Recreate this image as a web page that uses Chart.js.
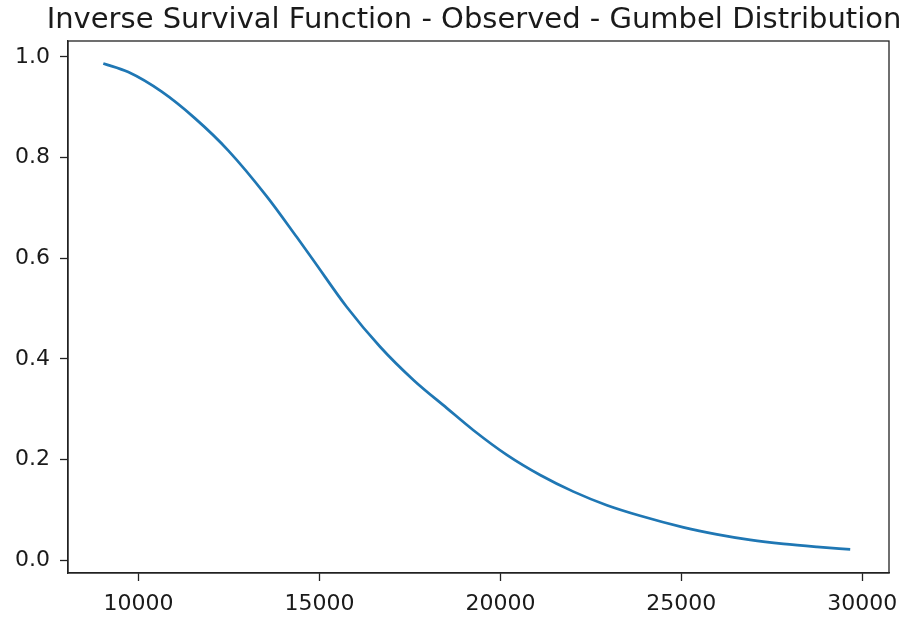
<!DOCTYPE html>
<html>
<head>
<meta charset="utf-8">
<script src="https://cdn.jsdelivr.net/npm/chart.js@4/dist/chart.umd.min.js"></script>
<style>
  html, body { margin: 0; padding: 0; background: #fff; }
  #wrap { width: 913px; height: 624px; }
</style>
</head>
<body>
<div id="wrap"><canvas id="isfChart" width="913" height="624"></canvas></div>
<script>
// observed survival curve, x = value, y = probability
const xValues = [9027, 9718, 10641, 11562, 12482, 13543, 14373, 14832, 15755, 16675, 17596, 18519,
  19254, 20177, 21097, 22018, 22941, 23861, 25058, 25981, 26902, 27822, 28745, 29666];
const yValues = [0.987, 0.970, 0.931, 0.878, 0.814, 0.723, 0.642, 0.596, 0.503, 0.424, 0.358, 0.302,
  0.258, 0.209, 0.169, 0.136, 0.109, 0.088, 0.065, 0.051, 0.040, 0.032, 0.026, 0.021];

const xTicks = [10000, 15000, 20000, 25000, 30000];
const yTicks = [0.0, 0.2, 0.4, 0.6, 0.8, 1.0];

const titleText = "Inverse Survival Function - Observed - Gumbel Distribution";

const points = xValues.map((x, i) => ({ x: x, y: yValues[i] }));

const axisColor = "#222";
const fontFamily = "'DejaVu Sans', sans-serif";

// matplotlib-like box around the plot area
const frameBox = {
  id: "frameBox",
  afterDatasetsDraw(chart) {
    const { ctx, chartArea } = chart;
    ctx.save();
    ctx.strokeStyle = axisColor;
    ctx.lineWidth = 1.3;
    ctx.strokeRect(chartArea.left, chartArea.top, chartArea.right - chartArea.left, chartArea.bottom - chartArea.top);
    ctx.restore();
  },
};

// the built-in title squeezes long text to the box width, so draw it here
const wideTitle = {
  id: "wideTitle",
  afterDraw(chart) {
    const { ctx } = chart;
    ctx.save();
    ctx.font = "29px " + fontFamily;
    ctx.fillStyle = "#1a1a1a";
    ctx.textAlign = "center";
    ctx.textBaseline = "alphabetic";
    ctx.fillText(titleText, 474, 27.5);
    ctx.restore();
  },
};

const ctx = document.getElementById("isfChart").getContext("2d");

new Chart(ctx, {
  type: "line",
  data: {
    datasets: [
      {
        data: points,
        borderColor: "#1f77b4",
        borderWidth: 2.7,
        pointRadius: 0,
        fill: false,
        cubicInterpolationMode: "monotone",
      },
    ],
  },
  plugins: [frameBox, wideTitle],
  options: {
    responsive: false,
    animation: false,
    layout: {
      padding: { left: 0, right: 24, top: 41, bottom: 0 },
    },
    plugins: {
      legend: { display: false },
      tooltip: { enabled: false },
      title: { display: false },
    },
    scales: {
      x: {
        type: "linear",
        min: 8052,
        max: 30738,
        afterFit: (scale) => { scale.height = 51; },
        afterBuildTicks: (scale) => { scale.ticks = xTicks.map((v) => ({ value: v })); },
        grid: {
          drawOnChartArea: false,
          drawTicks: true,
          tickLength: 8,
          tickColor: axisColor,
          tickWidth: 1.3,
        },
        border: { color: axisColor, width: 1.3 },
        ticks: {
          color: "#1a1a1a",
          padding: 10,
          maxRotation: 0,
          font: { family: fontFamily, size: 22 },
          callback: (v) => String(v),
        },
      },
      y: {
        type: "linear",
        min: -0.0258,
        max: 1.0318,
        afterFit: (scale) => { scale.width = 68; },
        afterBuildTicks: (scale) => { scale.ticks = yTicks.map((v) => ({ value: v })); },
        grid: {
          drawOnChartArea: false,
          drawTicks: true,
          tickLength: 8,
          tickColor: axisColor,
          tickWidth: 1.3,
        },
        border: { color: axisColor, width: 1.3 },
        ticks: {
          color: "#1a1a1a",
          padding: 10,
          font: { family: fontFamily, size: 22 },
          callback: (v) => v.toFixed(1),
        },
      },
    },
  },
});
</script>
</body>
</html>
